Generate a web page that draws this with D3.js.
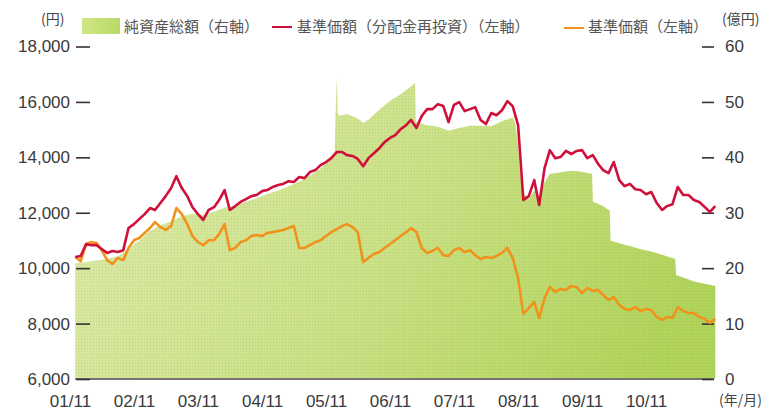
<!DOCTYPE html>
<html>
<head>
<meta charset="utf-8">
<script src="https://cdn.jsdelivr.net/npm/d3@7"></script>
<style>
  body { margin: 0; background: #fff; }
  svg { display: block; font-family: "Liberation Sans", Arial, "Noto Sans CJK JP", sans-serif; }
</style>
</head>
<body>
<svg id="chart" width="772" height="413"></svg>
<script>
// monthly points for the two price lines
var months = [
  "2001-12",
  "2002-01","2002-02","2002-03","2002-04","2002-05","2002-06","2002-07","2002-08","2002-09","2002-10","2002-11","2002-12",
  "2003-01","2003-02","2003-03","2003-04","2003-05","2003-06","2003-07","2003-08","2003-09","2003-10","2003-11","2003-12",
  "2004-01","2004-02","2004-03","2004-04","2004-05","2004-06","2004-07","2004-08","2004-09","2004-10","2004-11","2004-12",
  "2005-01","2005-02","2005-03","2005-04","2005-05","2005-06","2005-07","2005-08","2005-09","2005-10","2005-11","2005-12",
  "2006-01","2006-02","2006-03","2006-04","2006-05","2006-06","2006-07","2006-08","2006-09","2006-10","2006-11","2006-12",
  "2007-01","2007-02","2007-03","2007-04","2007-05","2007-06","2007-07","2007-08","2007-09","2007-10","2007-11","2007-12",
  "2008-01","2008-02","2008-03","2008-04","2008-05","2008-06","2008-07","2008-08","2008-09","2008-10","2008-11","2008-12",
  "2009-01","2009-02","2009-03","2009-04","2009-05","2009-06","2009-07","2009-08","2009-09","2009-10","2009-11","2009-12",
  "2010-01","2010-02","2010-03","2010-04","2010-05","2010-06","2010-07","2010-08","2010-09","2010-10","2010-11","2010-12",
  "2011-01","2011-02","2011-03","2011-04","2011-05","2011-06","2011-07","2011-08","2011-09","2011-10","2011-11","2011-12"
];

// 基準価額(分配金再投資) (円)
var navReinvest = [
  10400,
  10440,10870,10830,10830,10690,10550,10620,10580,10650,11450,11590,11770,
  11950,12170,12100,12350,12600,12890,13320,12890,12600,12200,11950,11740,
  12100,12200,12460,12820,12100,12240,12390,12490,12600,12640,12780,12820,
  12930,13000,13040,13140,13110,13290,13250,13470,13540,13720,13830,13970,
  14190,14190,14080,14050,13940,13680,13970,14150,14330,14550,14700,14800,
  15020,15160,15350,15060,15490,15740,15740,15920,15850,15270,15890,15990,
  15670,15740,15810,15350,15200,15600,15520,15700,16030,15850,15160,12460,
  12600,13180,12280,13610,14260,13970,14010,14230,14120,14230,14260,13970,
  14080,13760,13540,13430,13830,13180,12960,13040,12850,12820,12670,12750,
  12350,12100,12240,12310,12930,12640,12640,12460,12390,12210,12030,12240
];

// 基準価額 (円)
var nav = [
  10400,
  10250,10870,10940,10910,10650,10290,10150,10370,10290,10730,11010,11090,
  11270,11450,11660,11480,11380,11520,12170,11950,11590,11160,10940,10830,
  11010,11010,11230,11590,10650,10730,10940,11010,11160,11200,11160,11270,
  11300,11340,11380,11450,11520,10730,10730,10830,10940,11010,11160,11300,
  11410,11520,11590,11480,11300,10220,10370,10510,10580,10730,10870,11010,
  11160,11300,11450,11300,10730,10550,10620,10730,10470,10440,10650,10730,
  10580,10650,10470,10330,10400,10370,10440,10550,10730,10370,9640,8350,
  8560,8780,8200,8920,9320,9140,9250,9210,9360,9320,9100,9280,
  9180,9210,9030,8850,8960,8670,8530,8490,8600,8450,8530,8490,
  8240,8130,8240,8200,8600,8450,8380,8380,8240,8170,8020,8170
];

// 純資産総額 (億円)
var assetDates = [
  "2001-12-01","2002-02-01","2002-04-01","2002-06-01","2002-08-01","2002-10-01","2002-12-01",
  "2003-02-01","2003-04-01","2003-06-01","2003-08-01","2003-10-01","2003-12-01",
  "2004-02-01","2004-04-01","2004-06-01","2004-08-01","2004-10-01","2004-12-01",
  "2005-02-01","2005-04-01","2005-06-01","2005-08-01","2005-10-01","2005-12-01",
  "2005-12-20","2005-12-26","2006-01-02","2006-01-06","2006-01-17","2006-03-01","2006-05-01","2006-06-01",
  "2006-07-01","2006-09-01","2006-11-01","2007-01-01","2007-03-01","2007-03-24","2007-03-28",
  "2007-04-01","2007-06-01","2007-08-01","2007-10-01","2007-12-01","2008-02-01","2008-04-01",
  "2008-06-01","2008-08-01","2008-10-01","2008-10-17","2008-11-01","2008-11-12","2008-12-01",
  "2009-01-01","2009-02-01","2009-03-01","2009-04-01","2009-05-01","2009-07-01","2009-09-01",
  "2009-11-01","2009-12-28","2010-01-02","2010-02-01","2010-03-01","2010-04-01","2010-04-08",
  "2010-04-12","2010-06-01","2010-08-01","2010-10-01","2010-12-01","2011-02-01","2011-04-01",
  "2011-04-16","2011-04-22","2011-06-01","2011-08-01","2011-10-01","2011-12-01"
];
var assets = [
  20.9,21.1,21.4,21.7,22.1,23.5,25.0,
  26.7,27.8,28.4,29.4,29.8,29.6,
  30.2,30.9,31.3,32.0,32.6,33.4,
  34.0,34.8,35.6,36.7,38.0,40.0,
  41.0,48.5,54.5,48.0,47.5,47.8,47.0,46.2,
  46.8,48.6,50.2,51.4,52.8,53.4,46.5,
  46.4,45.8,45.5,44.8,45.3,45.7,45.7,
  45.6,46.5,47.2,46.0,42.0,37.0,33.5,
  32.5,34.0,33.0,35.5,37.0,37.3,37.6,
  37.4,37.0,32.0,31.6,31.2,30.5,30.4,
  25.0,24.5,24.0,23.4,23.0,22.4,21.8,
  21.7,18.7,18.3,17.6,17.2,16.8
];

var tickMonths = ["2001-11","2002-11","2003-11","2004-11","2005-11","2006-11","2007-11","2008-11","2009-11","2010-11"];
var tickLabels = ["01/11","02/11","03/11","04/11","05/11","06/11","07/11","08/11","09/11","10/11"];
var leftTicks = [6000, 8000, 10000, 12000, 14000, 16000, 18000];
var rightTicks = [0, 10, 20, 30, 40, 50, 60];

var legendNames = ["純資産総額（右軸）", "基準価額（分配金再投資）（左軸）", "基準価額（左軸）"];

var parseMonth = d3.timeParse("%Y-%m");
var parseDay = d3.timeParse("%Y-%m-%d");

var svg = d3.select("#chart");

var x = d3.scaleTime()
  .domain([parseMonth("2001-11"), parseMonth("2011-11")])
  .range([70, 710]);
var yL = d3.scaleLinear().domain([6000, 18000]).range([379, 46.5]);
var yR = d3.scaleLinear().domain([0, 60]).range([379, 46.5]);

var redLine = months.map(function(m, i){ return {d: parseMonth(m), v: navReinvest[i]} });
var orangeLine = months.map(function(m, i){ return {d: parseMonth(m), v: nav[i]} });
var assetData = assetDates.map(function(s, i){ return {d: parseDay(s), v: assets[i]} });

// gradient + speckle for the area (the original is a dithered gif)
var defs = svg.append("defs");
var grad = defs.append("linearGradient")
  .attr("id", "areaGrad")
  .attr("gradientUnits", "userSpaceOnUse")
  .attr("x1", 150).attr("y1", 80).attr("x2", 650).attr("y2", 390);
grad.append("stop").attr("offset", 0).attr("stop-color", "#d8e9a2");
grad.append("stop").attr("offset", 0.5).attr("stop-color", "#c6e07f");
grad.append("stop").attr("offset", 1).attr("stop-color", "#aad150");

var pat = defs.append("pattern")
  .attr("id", "speckle")
  .attr("patternUnits", "userSpaceOnUse")
  .attr("width", 3).attr("height", 3);
pat.append("rect").attr("x", 0).attr("y", 0).attr("width", 1).attr("height", 1)
  .attr("fill", "#c9a9a0").attr("fill-opacity", 0.35);
pat.append("rect").attr("x", 1.5).attr("y", 1.5).attr("width", 1).attr("height", 1)
  .attr("fill", "#f4f8c0").attr("fill-opacity", 0.4);

var swatchGrad = defs.append("linearGradient").attr("id", "swatchGrad");
swatchGrad.append("stop").attr("offset", 0).attr("stop-color", "#cfe586");
swatchGrad.append("stop").attr("offset", 1).attr("stop-color", "#b8da66");

var area = d3.area()
  .x(function(d){ return x(d.d) })
  .y0(yR(0))
  .y1(function(d){ return yR(d.v) });

svg.append("path")
  .datum(assetData)
  .attr("d", area)
  .attr("fill", "url(#areaGrad)");
svg.append("path")
  .datum(assetData)
  .attr("d", area)
  .attr("fill", "url(#speckle)");

// baseline
svg.append("line")
  .attr("x1", x(assetData[0].d)).attr("x2", 714)
  .attr("y1", yL(6000)).attr("y2", yL(6000))
  .attr("stroke", "#7a7373").attr("stroke-width", 2);

// axes
var leftAxis = d3.axisLeft(yL)
  .tickValues(leftTicks)
  .tickFormat(d3.format(","))
  .tickSizeInner(-14).tickSizeOuter(0).tickPadding(6);
var gl = svg.append("g").attr("transform", "translate(76,0)").call(leftAxis);
gl.select(".domain").remove();

var rightAxis = d3.axisRight(yR)
  .tickValues(rightTicks)
  .tickSizeInner(-12).tickSizeOuter(0).tickPadding(11);
var gr = svg.append("g").attr("transform", "translate(714,0)").call(rightAxis);
gr.select(".domain").remove();

var bottomAxis = d3.axisBottom(x)
  .tickValues(tickMonths.map(parseMonth))
  .tickFormat(function(d, i){ return tickLabels[i] })
  .tickSize(0).tickPadding(16);
var gb = svg.append("g").attr("transform", "translate(0,379)").call(bottomAxis);
gb.select(".domain").remove();

svg.selectAll(".tick line").attr("stroke", "#333").attr("stroke-width", 1.6);
svg.selectAll(".tick text")
  .attr("font-size", 17)
  .attr("fill", "#3a3a3a")
  .attr("font-family", "Liberation Sans, Arial, sans-serif");

// lines
var line = d3.line()
  .x(function(d){ return x(d.d) })
  .y(function(d){ return yL(d.v) });

svg.append("path")
  .datum(orangeLine)
  .attr("d", line)
  .attr("fill", "none")
  .attr("stroke", "#f0921c")
  .attr("stroke-width", 2.6)
  .attr("stroke-linejoin", "round");

svg.append("path")
  .datum(redLine)
  .attr("d", line)
  .attr("fill", "none")
  .attr("stroke", "#d0103c")
  .attr("stroke-width", 2.6)
  .attr("stroke-linejoin", "round");

// unit labels
var unitFont = "Noto Sans CJK JP, sans-serif";
svg.append("text").attr("x", 41).attr("y", 24)
  .attr("font-size", 14).attr("fill", "#444").attr("font-family", unitFont).text("(円)");
svg.append("text").attr("x", 722).attr("y", 24)
  .attr("font-size", 14).attr("fill", "#444").attr("font-family", unitFont).text("(億円)");
svg.append("text").attr("x", 719).attr("y", 405)
  .attr("font-size", 14).attr("fill", "#444").attr("font-family", unitFont).text("(年/月)");

// legend
var legend = svg.append("g").attr("font-family", unitFont).attr("font-size", 15).attr("fill", "#555");
legend.append("rect").attr("x", 82).attr("y", 18).attr("width", 38).attr("height", 16).attr("fill", "url(#swatchGrad)");
legend.append("text").attr("x", 124).attr("y", 32).text(legendNames[0]);
legend.append("line").attr("x1", 272).attr("x2", 292).attr("y1", 27).attr("y2", 27)
  .attr("stroke", "#d0103c").attr("stroke-width", 2);
legend.append("text").attr("x", 297).attr("y", 32).text(legendNames[1]);
legend.append("line").attr("x1", 564).attr("x2", 584).attr("y1", 28).attr("y2", 28)
  .attr("stroke", "#f0921c").attr("stroke-width", 2);
legend.append("text").attr("x", 588).attr("y", 32).text(legendNames[2]);
</script>
</body>
</html>
